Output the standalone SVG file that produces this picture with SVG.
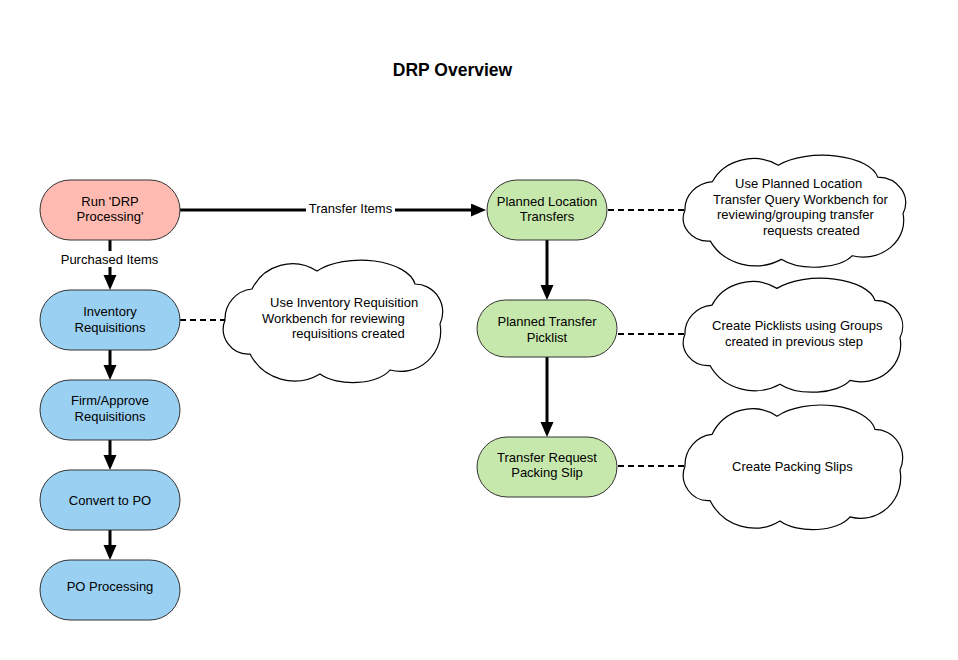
<svg xmlns="http://www.w3.org/2000/svg" xmlns:xlink="http://www.w3.org/1999/xlink" width="958" height="660" viewBox="0 0 958 660">
<style>
text{font-family:"Liberation Sans",Arial,sans-serif;font-size:13px;fill:#000}
.title{font-size:17.5px;font-weight:bold}
.c{text-anchor:middle}
.node{stroke:#333;stroke-width:1}
.pink{fill:#FFBBB1}
.blue{fill:#9AD0F2}
.green{fill:#C7E8AC}
.cloud{fill:#fff;stroke:#000;stroke-width:1.2}
.flow{fill:none;stroke:#000;stroke-width:3}
.dash{fill:none;stroke:#000;stroke-width:2;stroke-dasharray:6 4}
.lbl{fill:#fff}
</style>
<defs>
<marker id="arr" markerUnits="userSpaceOnUse" markerWidth="16" markerHeight="14" refX="0" refY="6.5" orient="auto">
<path d="M0,0 L15,6.5 L0,13 Z" fill="#000"/>
</marker>
<path id="cloudShape" vector-effect="non-scaling-stroke" d="M0,58 A30,30 0 0 1 27,27 A45,45 0 0 1 92,9 A55,28 0 0 1 190,22 A28,28 0 0 1 215,62 A40,40 0 0 1 165,108 A40,20 0 0 1 95,112 A50,50 0 0 1 25,92 A25,25 0 0 1 0,58 Z"/>
</defs>
<rect width="958" height="660" fill="#fff"/>
<text class="title c" x="452.5" y="75.5">DRP Overview</text>

<g id="connectors">
<path class="flow" d="M180,210 H471" marker-end="url(#arr)"/>
<rect class="lbl" x="306" y="201" width="89" height="16"/>
<text class="c" x="350.5" y="212.5">Transfer Items</text>
<path class="flow" d="M110,240 V275" marker-end="url(#arr)"/>
<rect class="lbl" x="58" y="251" width="103" height="16"/>
<text class="c" x="109.5" y="263.5">Purchased Items</text>
<path class="flow" d="M110,350 V365" marker-end="url(#arr)"/>
<path class="flow" d="M110,440 V455" marker-end="url(#arr)"/>
<path class="flow" d="M110,530 V545" marker-end="url(#arr)"/>
<path class="flow" d="M547,240 V285" marker-end="url(#arr)"/>
<path class="flow" d="M547,357 V422" marker-end="url(#arr)"/>
<path class="dash" d="M180,320 H226"/>
<path class="dash" d="M608,210 H686"/>
<path class="dash" d="M618,334 H686"/>
<path class="dash" d="M618,466 H686"/>
</g>

<g id="run-drp">
<rect class="node pink" x="40" y="180" width="140" height="60" rx="30" ry="30"/>
<text class="c" x="110" y="205.5">Run 'DRP</text>
<text class="c" x="110" y="221">Processing'</text>
</g>
<g id="inventory-requisitions">
<rect class="node blue" x="40" y="290" width="140" height="60" rx="30" ry="30"/>
<text class="c" x="110" y="315.5">Inventory</text>
<text class="c" x="110" y="331.5">Requisitions</text>
</g>
<g id="firm-approve">
<rect class="node blue" x="40" y="380" width="140" height="60" rx="30" ry="30"/>
<text class="c" x="110" y="405">Firm/Approve</text>
<text class="c" x="110" y="421">Requisitions</text>
</g>
<g id="convert-po">
<rect class="node blue" x="40" y="470" width="140" height="60" rx="30" ry="30"/>
<text class="c" x="110" y="504.5">Convert to PO</text>
</g>
<g id="po-processing">
<rect class="node blue" x="40" y="560" width="140" height="60" rx="30" ry="30"/>
<text class="c" x="110" y="591">PO Processing</text>
</g>

<g id="planned-location-transfers">
<rect class="node green" x="487" y="180" width="120" height="60" rx="30" ry="30"/>
<text class="c" x="547" y="205.5">Planned Location</text>
<text class="c" x="547" y="221">Transfers</text>
</g>
<g id="planned-transfer-picklist">
<rect class="node green" x="477" y="300" width="140" height="57" rx="28.5" ry="28.5"/>
<text class="c" x="547" y="326">Planned Transfer</text>
<text class="c" x="547" y="341.5">Picklist</text>
</g>
<g id="transfer-request-packing-slip">
<rect class="node green" x="477" y="437" width="140" height="60" rx="30" ry="30"/>
<text class="c" x="547" y="461.5">Transfer Request</text>
<text class="c" x="547" y="477">Packing Slip</text>
</g>

<g id="cloud-inventory">
<use xlink:href="#cloudShape" class="cloud" transform="translate(225,262)"/>
<text x="270" y="307">Use Inventory Requisition</text>
<text x="262" y="322.5">Workbench for reviewing</text>
<text x="292" y="338">requisitions created</text>
</g>
<g id="cloud-planned-location">
<use xlink:href="#cloudShape" class="cloud" transform="translate(685,157) scale(1.014,0.914)"/>
<text x="735" y="188">Use Planned Location</text>
<text x="713" y="203.5">Transfer Query Workbench for</text>
<text x="717" y="219">reviewing/grouping transfer</text>
<text x="763" y="234.5">requests created</text>
</g>
<g id="cloud-picklist">
<use xlink:href="#cloudShape" class="cloud" transform="translate(685,280) scale(1,0.93)"/>
<text x="712" y="330">Create Picklists using Groups</text>
<text x="725" y="345.5">created in previous step</text>
</g>
<g id="cloud-packing">
<use xlink:href="#cloudShape" class="cloud" transform="translate(685,407) scale(1,1.017)"/>
<text x="732" y="471">Create Packing Slips</text>
</g>
</svg>
